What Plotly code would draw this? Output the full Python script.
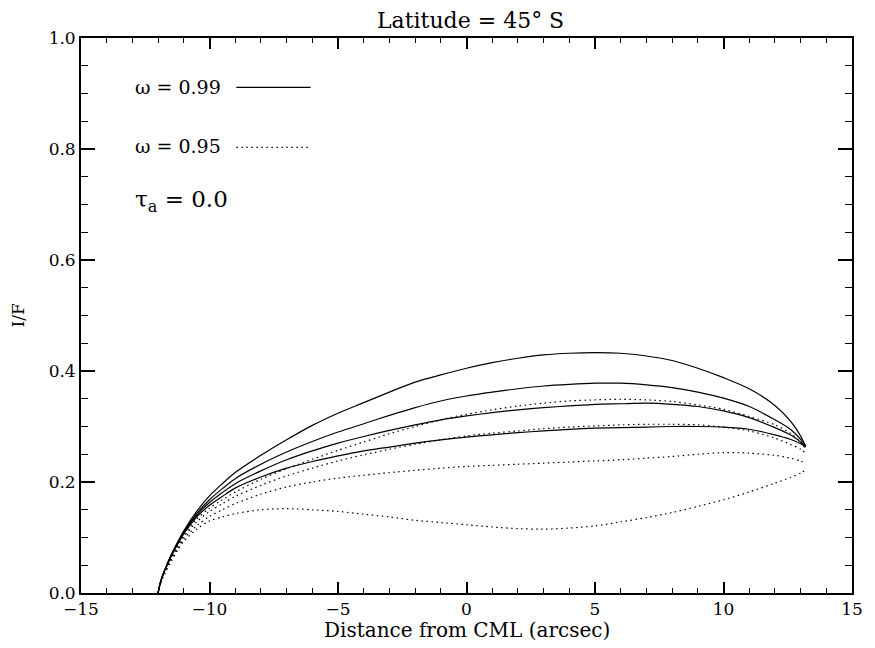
import plotly.graph_objects as go

# ---- data ----
x_pos = [-12.0, -11.9, -11.75, -11.5, -11.25, -11.0, -10.5, -10, -9.5, -9,
         -8, -7, -6, -5, -4, -3, -2, -1, 0, 1, 2, 3, 4, 5, 6, 7, 8, 9, 10, 11, 12,
         12.6, 13.0, 13.2]

# omega = 0.99 (solid)
w99_a = [0, 0.021, 0.041, 0.068, 0.091, 0.112, 0.147, 0.175, 0.197, 0.217,
         0.248, 0.276, 0.302, 0.324, 0.343, 0.362, 0.380, 0.393, 0.405, 0.415, 0.423, 0.429, 0.432, 0.433,
         0.432, 0.427, 0.419, 0.405, 0.388, 0.368, 0.338, 0.310, 0.283, 0.263]
w99_b = [0, 0.021, 0.040, 0.067, 0.089, 0.110, 0.143, 0.168, 0.188, 0.206,
         0.232, 0.254, 0.273, 0.290, 0.305, 0.320, 0.334, 0.346, 0.355, 0.362, 0.368, 0.373, 0.376, 0.378,
         0.378, 0.375, 0.370, 0.362, 0.351, 0.336, 0.312, 0.295, 0.277, 0.265]
w99_c = [0, 0.021, 0.040, 0.066, 0.088, 0.108, 0.140, 0.163, 0.181, 0.197,
         0.220, 0.240, 0.256, 0.270, 0.282, 0.293, 0.303, 0.312, 0.319, 0.325, 0.330, 0.334, 0.337, 0.340,
         0.341, 0.342, 0.340, 0.336, 0.328, 0.316, 0.298, 0.285, 0.272, 0.264]
w99_d = [0, 0.020, 0.039, 0.065, 0.087, 0.107, 0.137, 0.158, 0.174, 0.189,
         0.209, 0.225, 0.237, 0.247, 0.256, 0.263, 0.270, 0.276, 0.281, 0.285, 0.289, 0.292, 0.295, 0.297,
         0.298, 0.299, 0.300, 0.300, 0.299, 0.295, 0.285, 0.277, 0.269, 0.263]

# omega = 0.95 (dotted)
w95_a = [0, 0.020, 0.038, 0.063, 0.085, 0.104, 0.133, 0.153, 0.168, 0.182,
         0.205, 0.224, 0.241, 0.257, 0.272, 0.287, 0.300, 0.312, 0.322, 0.330, 0.337, 0.342, 0.346, 0.348,
         0.349, 0.348, 0.345, 0.339, 0.331, 0.318, 0.303, 0.288, 0.272, 0.258]
w95_b = [0, 0.019, 0.037, 0.061, 0.082, 0.101, 0.128, 0.147, 0.161, 0.174,
         0.194, 0.211, 0.225, 0.238, 0.249, 0.259, 0.268, 0.276, 0.283, 0.288, 0.292, 0.296, 0.299, 0.301,
         0.303, 0.304, 0.304, 0.303, 0.299, 0.292, 0.279, 0.268, 0.259, 0.252]
w95_c = [0, 0.018, 0.036, 0.059, 0.079, 0.097, 0.121, 0.138, 0.150, 0.161,
         0.178, 0.191, 0.200, 0.207, 0.212, 0.217, 0.221, 0.225, 0.228, 0.230, 0.232, 0.234, 0.236, 0.238,
         0.240, 0.243, 0.246, 0.250, 0.253, 0.252, 0.248, 0.243, 0.238, 0.234]
w95_d = [0, 0.018, 0.034, 0.056, 0.076, 0.093, 0.115, 0.130, 0.137, 0.143,
         0.150, 0.152, 0.150, 0.147, 0.142, 0.137, 0.131, 0.127, 0.123, 0.119, 0.116, 0.115, 0.117, 0.121,
         0.128, 0.136, 0.145, 0.156, 0.168, 0.182, 0.198, 0.208, 0.216, 0.222]

solid_series = [w99_a, w99_b, w99_c, w99_d]
dotted_series = [w95_a, w95_b, w95_c, w95_d]

x_ticks = [-15, -10, -5, 0, 5, 10, 15]
y_ticks = [0.0, 0.2, 0.4, 0.6, 0.8, 1.0]
y_ticklabels = ["0.0", "0.2", "0.4", "0.6", "0.8", "1.0"]

title_text = "Latitude = 45° S"
x_title = "Distance from CML (arcsec)"
y_title = "I/F"
label_99 = "ω = 0.99"
label_95 = "ω = 0.95"
label_tau = "τ<sub>a</sub> = 0.0"

FONT = "DejaVu Serif"
DOT = "1.5px,3.5px"

fig = go.Figure()
for s in solid_series:
    fig.add_trace(go.Scatter(x=x_pos, y=s, mode="lines",
                             line=dict(color="black", width=1.2, shape="spline", smoothing=0.8),
                             showlegend=False, hoverinfo="skip"))
for s in dotted_series:
    fig.add_trace(go.Scatter(x=x_pos, y=s, mode="lines",
                             line=dict(color="black", width=1.2, dash=DOT, shape="spline", smoothing=0.8),
                             showlegend=False, hoverinfo="skip"))

axis_common = dict(showgrid=False, zeroline=False, showline=True, linecolor="black", linewidth=1.8,
                   mirror="ticks", ticks="inside", tickcolor="black", tickwidth=1.5,
                   tickfont=dict(family=FONT, size=17, color="black"))

fig.update_xaxes(range=[-15, 15], tickvals=x_ticks, ticklen=11,
                 minor=dict(dtick=1, ticks="inside", ticklen=5, tickcolor="black", tickwidth=1.2),
                 **axis_common)
fig.update_yaxes(range=[0, 1], tickvals=y_ticks, ticktext=y_ticklabels, ticklen=14,
                 minor=dict(dtick=0.05, ticks="inside", ticklen=7, tickcolor="black", tickwidth=1.2),
                 **axis_common)

annotations = [
    dict(text=title_text, x=0.505, y=1.0, xref="paper", yref="paper", yshift=18, showarrow=False,
         font=dict(family=FONT, size=22, color="black"), xanchor="center", yanchor="middle"),
    dict(text=x_title, x=0.5, y=0, xref="paper", yref="paper", yshift=-37, showarrow=False,
         font=dict(family=FONT, size=20, color="black"), xanchor="center", yanchor="middle"),
    dict(text=y_title, x=0, y=0.5, xref="paper", yref="paper", xshift=-64, showarrow=False, textangle=-90,
         font=dict(family=FONT, size=17, color="black"), xanchor="center", yanchor="middle"),
    dict(text=label_99, x=0.067, y=0.911, xref="paper", yref="paper", showarrow=False,
         font=dict(family=FONT, size=19, color="black"), xanchor="left", yanchor="middle"),
    dict(text=label_95, x=0.067, y=0.805, xref="paper", yref="paper", showarrow=False,
         font=dict(family=FONT, size=19, color="black"), xanchor="left", yanchor="middle"),
    dict(text=label_tau, x=0.067, y=0.706, xref="paper", yref="paper", showarrow=False,
         font=dict(family=FONT, size=23, color="black"), xanchor="left", yanchor="middle"),
]

shapes = [
    dict(type="line", xref="paper", yref="paper", x0=0.2015, x1=0.2978, y0=0.911, y1=0.911,
         line=dict(color="black", width=1.2)),
    dict(type="line", xref="paper", yref="paper", x0=0.2015, x1=0.2978, y0=0.803, y1=0.803,
         line=dict(color="black", width=1.2, dash=DOT)),
]

fig.update_layout(width=875, height=648, margin=dict(l=81, r=15, t=38, b=55),
                  paper_bgcolor="white", plot_bgcolor="white",
                  annotations=annotations, shapes=shapes, showlegend=False)

fig.write_html("out.html")
